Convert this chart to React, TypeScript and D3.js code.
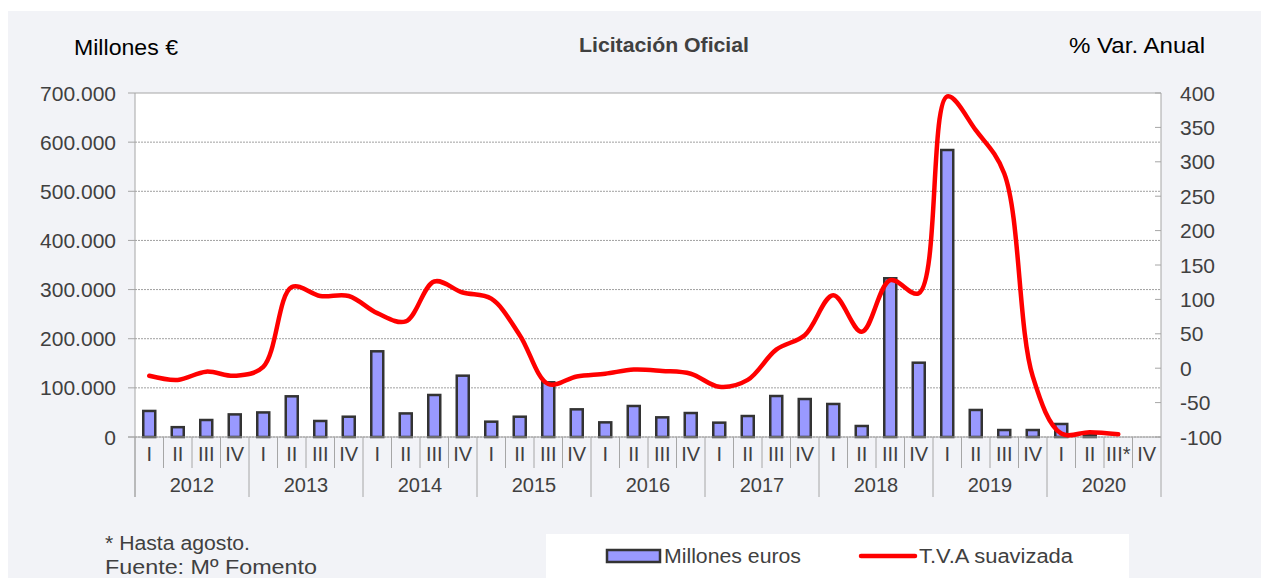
import React from 'react';
import * as d3 from 'd3';

// Licitación oficial, trimestral 2012-2020
const years = ['2012', '2013', '2014', '2015', '2016', '2017', '2018', '2019', '2020'];
const quarterLabels = ['I', 'II', 'III', 'IV'];
const lastYearQuarterLabels = ['I', 'II', 'III*', 'IV'];

// millones de euros por trimestre
const millones: (number | null)[] = [
  53000, 20000, 34600, 46000,
  50000, 82800, 32600, 41300,
  174400, 48000, 85500, 124800,
  31200, 41300, 111300, 56300,
  29800, 63100, 40000, 48800,
  29200, 42700, 83400, 77300,
  67200, 22400, 323000, 151200,
  584000, 55000, 14200, 14200,
  26500, 4000, null, null,
];

// T.V.A suavizada (% var. anual)
const tva: (number | null)[] = [
  -11, -17, -5, -11,
  2, 118, 105, 105,
  80, 68, 126, 110,
  101, 48, -23, -12,
  -8, -2, -4, -8,
  -27, -17, 27, 48,
  106, 53, 128, 109,
  395, 346, 283, -12,
  -95, -93, -96, null,
];

const leftTicks = [0, 100000, 200000, 300000, 400000, 500000, 600000, 700000];
const rightTicks = [-100, -50, 0, 50, 100, 150, 200, 250, 300, 350, 400];

const W = 1261;
const H = 578;
const plot = { left: 135, right: 1161, top: 93, bottom: 437 };

const esLocale = d3.formatLocale({ decimal: ',', thousands: '.', grouping: [3], currency: ['', '€'] });
const fmt = esLocale.format(',');

const FONT = '"Liberation Sans", Arial, sans-serif';
const TXT = '#404040';
const AXIS = '#a6a6a6';

export default function App() {
  const labels = years.flatMap((y, i) =>
    (i === years.length - 1 ? lastYearQuarterLabels : quarterLabels).map(q => ({ year: y, q }))
  );
  const idx = labels.map((_, i) => i);

  const x = d3.scaleBand<number>().domain(idx).range([plot.left, plot.right]).padding(0);
  const bw = x.bandwidth();
  const yL = d3.scaleLinear().domain([0, 700000]).range([plot.bottom, plot.top]);
  const yR = d3.scaleLinear().domain([-100, 400]).range([plot.bottom, plot.top]);

  const barW = 12;

  const linePts = tva
    .map((v, i) => ({ v, i }))
    .filter(d => d.v !== null) as { v: number; i: number }[];
  const line = d3
    .line<{ v: number; i: number }>()
    .x(d => (x(d.i) as number) + bw / 2)
    .y(d => yR(d.v))
    .curve(d3.curveCatmullRom.alpha(0.5));

  const yearW = bw * 4;

  return (
    <svg
      width={W}
      height={H}
      style={{ position: 'absolute', left: 0, top: 0, display: 'block' }}
      fontFamily={FONT}
    >
      <rect x={0} y={0} width={W} height={H} fill="#ffffff" />
      <rect x={8} y={11} width={W - 8} height={H - 11} fill="#f2f3f7" />

      {/* header */}
      <text x={74} y={55} fontSize={22} fill="#000" textLength={104} lengthAdjust="spacingAndGlyphs">
        Millones €
      </text>
      <text x={579} y={52} fontSize={20} fontWeight="bold" fill={TXT} textLength={170} lengthAdjust="spacingAndGlyphs">
        Licitación Oficial
      </text>
      <text x={1069} y={53} fontSize={22} fill="#000" textLength={136} lengthAdjust="spacingAndGlyphs">
        % Var. Anual
      </text>

      {/* plot area */}
      <rect x={plot.left} y={plot.top} width={plot.right - plot.left} height={plot.bottom - plot.top} fill="#fff" />

      {/* gridlines */}
      {leftTicks.map(t => (
        <line
          key={'g' + t}
          x1={plot.left}
          x2={plot.right}
          y1={yL(t)}
          y2={yL(t)}
          stroke={t === 700000 ? AXIS : '#a0a0a0'}
          strokeWidth={1}
          strokeDasharray={t === 700000 ? undefined : '2,1'}
        />
      ))}

      {/* left axis */}
      <line x1={plot.left} x2={plot.left} y1={plot.top} y2={497} stroke={AXIS} />
      {leftTicks.map(t => (
        <g key={'l' + t}>
          <line x1={plot.left - 7} x2={plot.left} y1={yL(t)} y2={yL(t)} stroke={AXIS} />
          <text x={116} y={yL(t)} dy="0.36em" fontSize={21} fill={TXT} textAnchor="end">
            {fmt(t)}
          </text>
        </g>
      ))}

      {/* right axis */}
      <line x1={plot.right} x2={plot.right} y1={plot.top} y2={497} stroke={AXIS} />
      {rightTicks.map(t => (
        <g key={'r' + t}>
          <line x1={plot.right - 6} x2={plot.right} y1={yR(t)} y2={yR(t)} stroke={AXIS} />
          <text x={1180} y={yR(t)} dy="0.36em" fontSize={21} fill={TXT}>
            {t}
          </text>
        </g>
      ))}

      {/* bars */}
      {millones.map((v, i) =>
        v === null ? null : (
          <rect
            key={'b' + i}
            x={(x(i) as number) + bw / 2 - barW / 2}
            y={yL(v)}
            width={barW}
            height={yL(0) - yL(v)}
            fill="#9999ff"
            stroke="#333333"
            strokeWidth={2.5}
          />
        )
      )}

      {/* baseline */}
      <line x1={plot.left - 7} x2={plot.right} y1={plot.bottom} y2={plot.bottom} stroke={AXIS} />

      {/* category axis */}
      {labels.map((d, i) => (
        <g key={'q' + i}>
          {i % 4 !== 0 && (
            <line
              x1={x(i) as number}
              x2={x(i) as number}
              y1={plot.bottom}
              y2={468}
              stroke={AXIS}
            />
          )}
          <text
            x={(x(i) as number) + bw / 2}
            y={454}
            dy="0.36em"
            fontSize={20}
            fill={TXT}
            textAnchor="middle"
          >
            {d.q}
          </text>
        </g>
      ))}
      {years.map((yr, j) => (
        <g key={'y' + yr}>
          <line
            x1={plot.left + j * yearW}
            x2={plot.left + j * yearW}
            y1={plot.bottom}
            y2={497}
            stroke={AXIS}
          />
          <text
            x={plot.left + j * yearW + yearW / 2}
            y={485}
            dy="0.36em"
            fontSize={20}
            fill={TXT}
            textAnchor="middle"
          >
            {yr}
          </text>
        </g>
      ))}

      {/* line */}
      <path d={line(linePts) || ''} fill="none" stroke="#ff0000" strokeWidth={4.5} strokeLinecap="round" strokeLinejoin="round" />

      {/* footnote */}
      <text x={105} y={543} dy="0.36em" fontSize={20} fill={TXT} textLength={145} lengthAdjust="spacingAndGlyphs">
        * Hasta agosto.
      </text>
      <text x={105} y={567} dy="0.36em" fontSize={20} fill={TXT} textLength={212} lengthAdjust="spacingAndGlyphs">
        Fuente: Mº Fomento
      </text>

      {/* legend */}
      <rect x={546} y={534} width={583} height={H - 534} fill="#fff" />
      <rect x={607} y={550} width={53} height={12} fill="#9999ff" stroke="#333333" strokeWidth={2.5} />
      <text x={664} y={556} dy="0.36em" fontSize={20} fill={TXT} textLength={137} lengthAdjust="spacingAndGlyphs">
        Millones euros
      </text>
      <line x1={861} x2={915} y1={556} y2={556} stroke="#ff0000" strokeWidth={4.5} strokeLinecap="round" />
      <text x={919} y={556} dy="0.36em" fontSize={20} fill={TXT} textLength={154} lengthAdjust="spacingAndGlyphs">
        T.V.A suavizada
      </text>
    </svg>
  );
}
